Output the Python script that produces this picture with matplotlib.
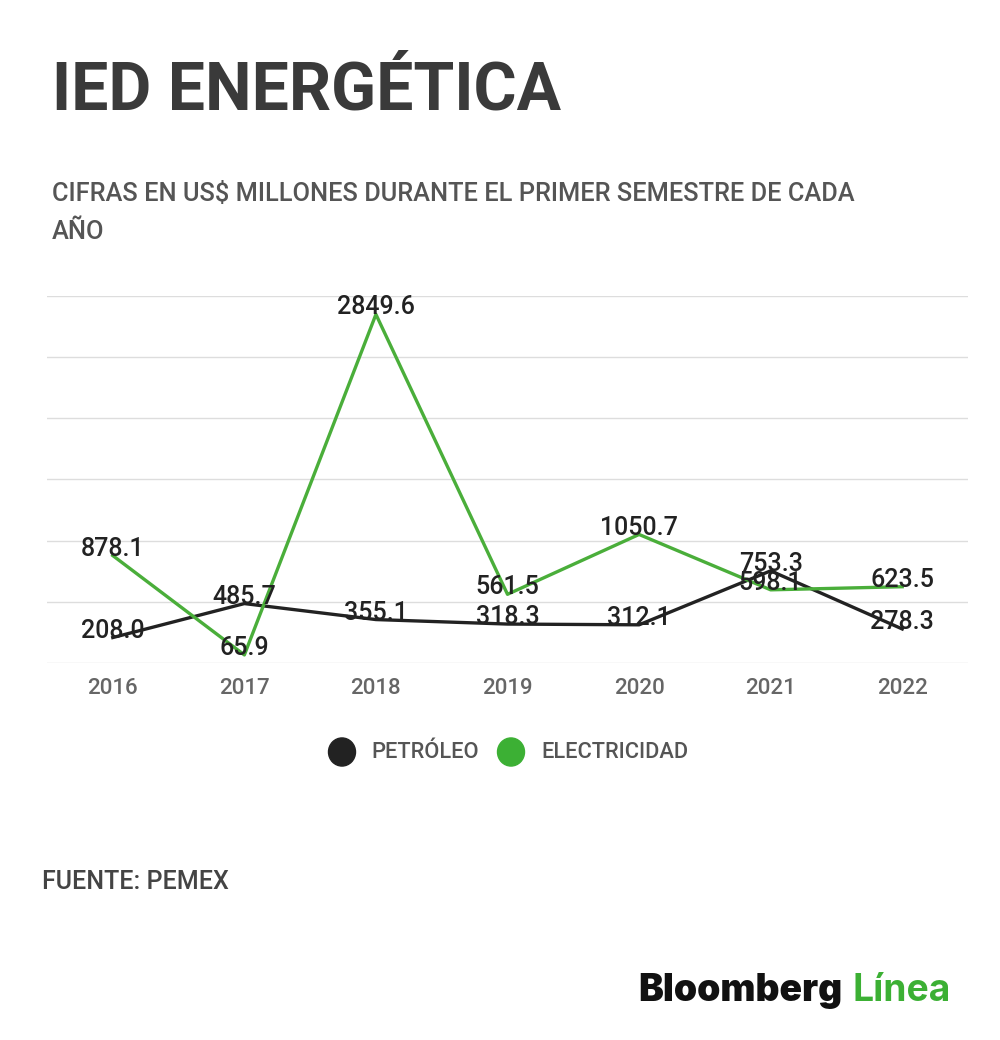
import matplotlib
matplotlib.use("Agg")
import matplotlib.pyplot as plt

years = ["2016", "2017", "2018", "2019", "2020", "2021", "2022"]
petroleo = [208.0, 485.7, 355.1, 318.3, 312.1, 753.3, 278.3]
electricidad = [878.1, 65.9, 2849.6, 561.5, 1050.7, 598.1, 623.5]
series_names = ["PETRÓLEO", "ELECTRICIDAD"]

plt.rcParams["font.family"] = ["Roboto", "DejaVu Sans"]

BLACK = "#222222"
GREEN = "#4aae3a"

fig = plt.figure(figsize=(10, 10.4), dpi=100)
ax = fig.add_axes([0.047, 0.3625, 0.921, 0.3529])

x = list(range(len(years)))
ax.plot(x, petroleo, color=BLACK, lw=2.4, zorder=3)
ax.plot(x, electricidad, color=GREEN, lw=2.4, zorder=3)

# value labels sit just above each point, as in the original graphic
for xi, v in zip(x, petroleo):
    ax.annotate(f"{v:.1f}", (xi, v), xytext=(0, 5), textcoords="offset points",
                ha="center", va="center", fontsize=18, fontweight="medium",
                color=BLACK, zorder=4)
for xi, v in zip(x, electricidad):
    ax.annotate(f"{v:.1f}", (xi, v), xytext=(0, 5), textcoords="offset points",
                ha="center", va="center", fontsize=18, fontweight="medium",
                color=BLACK, zorder=4)

ax.set_xlim(-0.5, 6.5)
ax.set_ylim(0, 3000)
ax.set_yticks(range(0, 3001, 500))
ax.yaxis.grid(True, color="#dddddd", lw=1)
ax.set_axisbelow(True)
ax.tick_params(axis="y", left=False, labelleft=False)
ax.tick_params(axis="x", length=0, pad=11, labelsize=16, labelcolor="#666666")
ax.set_xticks(x)
ax.set_xticklabels(years, fontweight="medium")
for s in ax.spines.values():
    s.set_visible(False)

fig.text(0.052, 0.912, "IED ENERGÉTICA", fontsize=47.5, fontweight="bold",
         color="#3a3a3a", va="center", ha="left")
fig.text(0.052, 0.813, "CIFRAS EN US$ MILLONES DURANTE EL PRIMER SEMESTRE DE CADA",
         fontsize=18.3, fontweight="medium", color="#555555", va="center", ha="left")
fig.text(0.052, 0.777, "AÑO", fontsize=18.3, fontweight="medium", color="#555555",
         va="center", ha="left")

# legend
legend_y = 1 - 752 / 1040
fig.patches.append(plt.Circle((342 / 1000, legend_y), 0.0135, transform=fig.transFigure,
                              color=BLACK, figure=fig))
fig.text(371 / 1000, legend_y, series_names[0], fontsize=15.7, fontweight="medium",
         color="#555555", va="center", ha="left")
fig.patches.append(plt.Circle((511 / 1000, legend_y), 0.0135, transform=fig.transFigure,
                              color="#3cb034", figure=fig))
fig.text(541 / 1000, legend_y, series_names[1], fontsize=15.7, fontweight="medium",
         color="#555555", va="center", ha="left")

fig.text(0.042, 1 - 882 / 1040, "FUENTE: PEMEX", fontsize=18, fontweight="medium",
         color="#444444", va="center", ha="left")

t1 = fig.text(0.638, 1 - 991 / 1040, "Bloomberg", fontsize=26.8, fontweight="black",
              color="#111111", va="center", ha="left", family="Inter")
fig.canvas.draw()
bb = t1.get_window_extent()
fig.text(bb.x1 / 1000 + 0.01, 1 - 991 / 1040, "Línea", fontsize=26.8, fontweight="bold",
         color="#3cb034", va="center", ha="left", family="Inter")

fig.savefig("out.png", dpi=100)
